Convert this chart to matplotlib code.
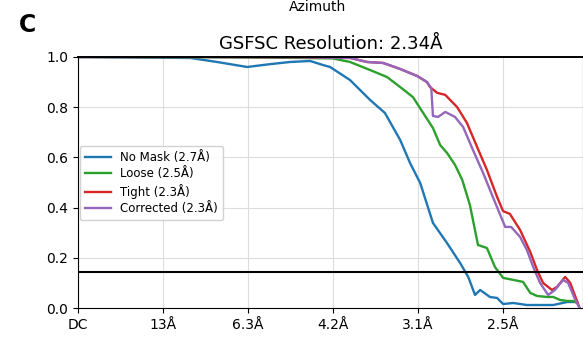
#Plots the GSFSC curves (no mask / loose / tight / corrected)

import numpy as np
import matplotlib.pyplot as plt

#shell index, ticks every 20 shells
tick_pos = [0, 20, 40, 60, 80, 100]
tick_labels = ['DC', '13Å', '6.3Å', '4.2Å', '3.1Å', '2.5Å']

nomask_x = [0, 12.2, 26.4, 32.7, 39.8, 44.5, 49.9, 54.6, 57.6, 59.3, 64.0, 68.7,
            72.2, 75.8, 78.1, 80.5, 83.5, 86.8, 89.9, 91.8, 93.4, 94.6, 96.9,
            98.6, 100.0, 102.4, 105.6, 108.7, 111.8, 115.1, 117.4]
nomask_y = [1.0, 0.998, 0.996, 0.98, 0.96, 0.97, 0.98, 0.984, 0.968, 0.96, 0.908,
            0.829, 0.777, 0.669, 0.578, 0.498, 0.339, 0.259, 0.179, 0.124, 0.052,
            0.072, 0.044, 0.040, 0.016, 0.02, 0.012, 0.012, 0.012, 0.024, 0.024]

loose_x = [0, 30.0, 52.2, 60.0, 64.0, 68.7, 72.7, 75.8, 78.8, 81.2, 83.5, 85.2,
           86.8, 88.7, 90.4, 92.2, 94.1, 96.2, 98.1, 100.0, 102.4, 104.7, 106.4,
           108.0, 110.4, 111.8, 113.4, 115.1, 116.5, 117.4]
loose_y = [1.0, 0.999, 0.996, 0.994, 0.98, 0.948, 0.92, 0.88, 0.84, 0.777, 0.717,
           0.649, 0.618, 0.57, 0.51, 0.41, 0.251, 0.239, 0.163, 0.12, 0.112, 0.104,
           0.06, 0.048, 0.044, 0.044, 0.032, 0.028, 0.028, 0.02]

tight_x = [0, 30.0, 52.2, 64.0, 68.0, 71.8, 75.8, 79.8, 82.1, 82.8, 84.5, 86.4,
           89.2, 91.5, 93.9, 96.2, 98.6, 100.0, 101.6, 104.0, 106.4, 108.0, 109.4,
           111.5, 112.7, 114.6, 115.8, 118.0]
tight_y = [1.0, 1.0, 0.999, 0.996, 0.98, 0.976, 0.952, 0.924, 0.90, 0.88, 0.857,
           0.849, 0.80, 0.737, 0.641, 0.55, 0.442, 0.386, 0.375, 0.311, 0.223,
           0.151, 0.10, 0.072, 0.084, 0.124, 0.10, 0.0]

corr_x = [0, 30.0, 52.2, 64.0, 68.0, 71.8, 75.8, 79.8, 82.1, 83.1, 83.5, 84.7,
          86.4, 88.7, 90.6, 92.9, 95.3, 97.6, 100.5, 101.9, 104.0, 105.6, 107.1,
          108.7, 110.6, 112.2, 114.1, 115.3, 117.0, 118.0]
corr_y = [1.0, 1.0, 0.999, 0.996, 0.98, 0.976, 0.952, 0.924, 0.90, 0.876, 0.765,
          0.761, 0.781, 0.761, 0.721, 0.63, 0.538, 0.442, 0.323, 0.323, 0.283,
          0.231, 0.163, 0.10, 0.052, 0.072, 0.112, 0.10, 0.032, 0.0]

threshold = 0.143


def main():
    fig = plt.figure(figsize=(5.83, 3.37), dpi=100)
    ax = fig.add_axes([0.1338, 0.086, 0.8662, 0.745])

    ax.plot(nomask_x, nomask_y, color='tab:blue', lw=1.7, label='No Mask (2.7Å)')
    ax.plot(loose_x, loose_y, color='tab:green', lw=1.7, label='Loose (2.5Å)')
    ax.plot(tight_x, tight_y, color='tab:red', lw=1.7, label='Tight (2.3Å)')
    ax.plot(corr_x, corr_y, color='tab:purple', lw=1.7, label='Corrected (2.3Å)')
    ax.axhline(threshold, color='black', lw=1.5)

    ax.set_xlim(0, 118.8)
    ax.set_ylim(0, 1.0)
    ax.set_xticks(tick_pos)
    ax.set_xticklabels(tick_labels, fontsize=10)
    ax.set_yticks([0.0, 0.2, 0.4, 0.6, 0.8, 1.0])
    ax.tick_params(axis='y', labelsize=10)
    ax.grid(True, color='#dddddd', lw=0.8)
    ax.set_axisbelow(True)
    ax.spines['top'].set_linewidth(1.4)
    ax.set_title('GSFSC Resolution: 2.34Å', fontsize=13, pad=6)

    ax.legend(loc='lower left', bbox_to_anchor=(0.004, 0.35), fontsize=8.5,
              labelspacing=0.3, handlelength=2.2, framealpha=0.9, borderaxespad=0)

    fig.text(0.544, 0.958, 'Azimuth', fontsize=10, ha='center', va='bottom')
    fig.text(0.047, 0.925, 'C', fontsize=17, fontweight='bold', ha='center', va='center')

    fig.savefig('out.png', dpi=100)


main()
